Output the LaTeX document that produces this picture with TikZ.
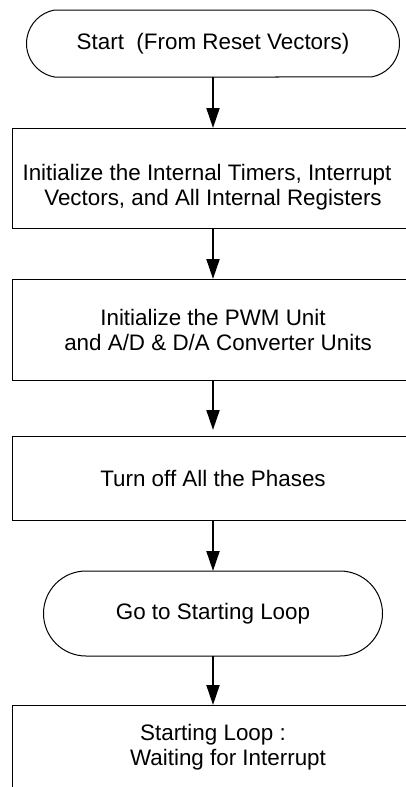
\documentclass[tikz,border=0pt]{standalone}
\usepackage{fontspec}
\setmainfont{Liberation Sans}
\usetikzlibrary{shapes.misc,arrows.meta}
\begin{document}
\begin{tikzpicture}[x=1pt,y=1pt,
  txt/.style={font=\fontsize{22.4}{25}\selectfont},
  box/.style={txt, draw, line width=1pt, rectangle, inner sep=0pt, outer sep=0pt,
              minimum width=402pt, align=center},
  term/.style={txt, draw, line width=1pt, rounded rectangle, inner sep=0pt, outer sep=0pt,
               align=center},
  lbl/.style={txt, align=center, inner sep=0pt},
  flow/.style={line width=2pt, -{Triangle[width=13pt,length=20pt]}}]
\useasboundingbox (0,0) rectangle (406,-787);
\clip (0,0) rectangle (406,-787);
\node[term, minimum width=373pt, minimum height=67pt, rounded rectangle arc length=160] (t1) at (213,-43.5)
  {Start\ \ (From Reset Vectors)};
\node[box, minimum height=100pt] (b1) at (213,-178) {};
\node[lbl] (b1t) at ([yshift=-9.5pt]b1.center)
  {Initialize the Internal Timers, Interrupt\hspace*{12pt}\\Vectors, and All Internal Registers};
\node[box, minimum height=101pt] (b2) at (213,-329.5)
  {Initialize the PWM Unit\\\hspace*{10pt}and A/D \& D/A Converter Units};
\node[box, minimum height=84pt] (b3) at (213,-478) {Turn off All the Phases};
\node[term, minimum width=339pt, minimum height=85pt, rounded rectangle arc length=180] (t2) at (213,-613.5)
  {Go to Starting Loop};
\node[box, minimum height=84pt] (b5) at (213,-747)
  {Starting Loop :\\\hspace*{30pt}Waiting for Interrupt};
\draw[flow] (t1.south) -- (b1.north);
\draw[flow] (b1.south) -- (b2.north);
\draw[flow, shorten >=6pt] (b2.south) -- (b3.north);
\draw[flow] (b3.south) -- (t2.north);
\draw[flow] (t2.south) -- (b5.north);
\end{tikzpicture}
\end{document}
